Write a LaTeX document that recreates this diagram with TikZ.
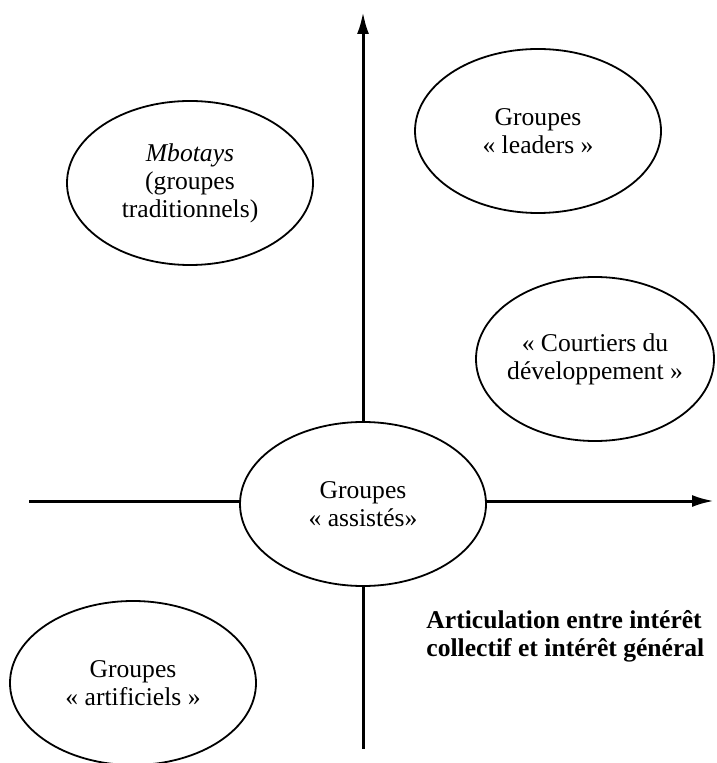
\documentclass[tikz,border=0pt]{standalone}
\usepackage{fontspec}
\setmainfont{Liberation Serif}
\usepackage{tikz}
\usetikzlibrary{shapes.geometric}
\usetikzlibrary{arrows.meta}

\begin{document}
\begin{tikzpicture}[x=0.5pt,y=-0.5pt,
    groupe/.style={draw,ellipse,line width=0.9pt,minimum width=123pt,minimum height=82pt,inner sep=-8pt,align=center,font=\fontsize{12.8}{14}\selectfont},
    axe/.style={line width=1.5pt},
    fleche/.style={-{Latex[length=11pt,width=6pt]}}]
    \useasboundingbox (0,0) rectangle (716,763);

    % les groupes
    \node[groupe] (assistes) at (363,504) {Groupes\\« assistés»};
    \node[groupe] (mbotays) at (190,183) {\textit{Mbotays}\\(groupes\\traditionnels)};
    \node[groupe] (leaders) at (538,131) {Groupes\\« leaders »};
    \node[groupe,minimum width=119pt] (courtiers) at (595,359) {« Courtiers du\\développement »};
    \node[groupe] (artificiels) at (133,683) {Groupes\\« artificiels »};

    \node[anchor=west,align=left,inner sep=0pt,font=\bfseries\fontsize{12.8}{14}\selectfont] (titre) at (426,636) {Articulation entre intérêt\\collectif et intérêt général};

    % les axes
    \coordinate (haut) at (363,12);
    \coordinate (bas) at (363,749);
    \coordinate (gauche) at (29,501);
    \coordinate (droite) at (714,501);

    \draw[axe,fleche] (assistes.north)--(haut);
    \draw[axe] (assistes.south)--(bas);
    \draw[axe] (gauche)--(assistes.west |- gauche);
    \draw[axe,fleche] (assistes.east |- droite)--(droite);
\end{tikzpicture}
\end{document}
